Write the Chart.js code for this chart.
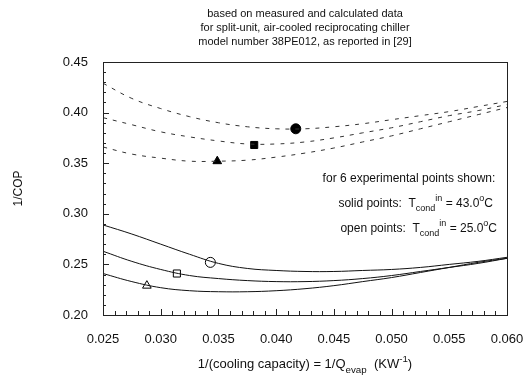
<!DOCTYPE html>
<html>
<head>
<meta charset="utf-8">
<script src="https://cdn.jsdelivr.net/npm/chart.js@4.4.1/dist/chart.umd.min.js"></script>
<style>
  html, body { margin: 0; padding: 0; background: #fff; }
  #wrap { width: 529px; height: 379px; }
</style>
</head>
<body>
<div id="wrap"><canvas id="copChart" width="529" height="379"></canvas></div>
<script>
// 1/Q_evap sample positions (KW^-1)
const xs = [0.025, 0.0275, 0.030, 0.0325, 0.035, 0.0375, 0.040, 0.0425, 0.045, 0.0475, 0.050, 0.0525, 0.055, 0.0575, 0.060];

// dashed curves, T_cond_in = 43.0 C
const hotCircle   = [0.429, 0.414, 0.404, 0.396, 0.390, 0.386, 0.384, 0.384, 0.386, 0.389, 0.393, 0.397, 0.401, 0.406, 0.411];
const hotSquare   = [0.395, 0.388, 0.381, 0.376, 0.372, 0.369, 0.369, 0.371, 0.375, 0.380, 0.385, 0.391, 0.397, 0.402, 0.408];
const hotTriangle = [0.366, 0.359, 0.355, 0.352, 0.352, 0.353, 0.356, 0.360, 0.365, 0.371, 0.377, 0.384, 0.391, 0.398, 0.405];

// solid curves, T_cond_in = 25.0 C
const coldCircle   = [0.289, 0.280, 0.270, 0.260, 0.251, 0.246, 0.244, 0.243, 0.243, 0.244, 0.245, 0.247, 0.250, 0.253, 0.257];
const coldSquare   = [0.263, 0.253, 0.245, 0.239, 0.236, 0.234, 0.233, 0.233, 0.234, 0.236, 0.239, 0.243, 0.247, 0.251, 0.256];
const coldTriangle = [0.241, 0.233, 0.227, 0.224, 0.223, 0.223, 0.224, 0.226, 0.229, 0.233, 0.237, 0.242, 0.247, 0.252, 0.256];

// the 6 experimental points
const solidPts = [
    { x: 0.0417, y: 0.384, shape: 'circle' },
    { x: 0.0381, y: 0.368, shape: 'rect' },
    { x: 0.0349, y: 0.352, shape: 'triangle' }
];
const openPts = [
    { x: 0.0343, y: 0.252, shape: 'circle' },
    { x: 0.0314, y: 0.241, shape: 'rect' },
    { x: 0.0288, y: 0.229, shape: 'triangle' }
];

const titleLines = [
    'based on measured and calculated data',
    'for split-unit, air-cooled reciprocating chiller',
    'model number 38PE012, as reported in [29]'
];
const xTicks = [0.025, 0.030, 0.035, 0.040, 0.045, 0.050, 0.055, 0.060];
const yTicks = [0.20, 0.25, 0.30, 0.35, 0.40, 0.45];

const FONT = '"Liberation Sans", Arial, sans-serif';

function toPoints(ys) {
    return xs.map(function (x, i) { return { x: x, y: ys[i] }; });
}

function curve(ys, dashed) {
    return {
        data: toPoints(ys),
        showLine: true,
        borderColor: dashed ? '#333' : '#111',
        borderWidth: 1,
        borderDash: dashed ? [4, 6] : [],
        pointRadius: 0,
        tension: 0.4,
        fill: false
    };
}

function marker(p, filled) {
    return {
        data: [{ x: p.x, y: p.y }],
        showLine: false,
        pointStyle: p.shape,
        pointRadius: 5,
        pointBackgroundColor: filled ? '#000' : '#fff',
        pointBorderColor: '#000',
        pointBorderWidth: 1
    };
}

// draws a run of text pieces; each piece may be normal, sub or sup
function drawRuns(ctx, runs, x, y, size, align) {
    let total = 0;
    runs.forEach(function (r) {
        const s = r.mode ? size * 0.75 : size;
        ctx.font = s + 'px ' + FONT;
        r.w = ctx.measureText(r.t).width;
        r.s = s;
        total += r.w;
    });
    let cx = align === 'right' ? x - total : (align === 'center' ? x - total / 2 : x);
    ctx.textAlign = 'left';
    ctx.textBaseline = 'alphabetic';
    runs.forEach(function (r) {
        ctx.font = r.s + 'px ' + FONT;
        let dy = 0;
        if (r.mode === 'sub') dy = size * 0.35;
        if (r.mode === 'sup') dy = -size * 0.5;
        ctx.fillText(r.t, cx, y + dy);
        cx += r.w;
    });
}

const decorations = {
    id: 'decorations',
    afterDraw: function (chart) {
        const ctx = chart.ctx;
        const a = chart.chartArea;
        const xs_ = chart.scales.x;
        const ys_ = chart.scales.y;
        ctx.save();
        ctx.fillStyle = '#111';
        ctx.strokeStyle = '#222';
        ctx.lineWidth = 1;

        // frame
        ctx.strokeRect(a.left + 0.5, a.top + 0.5, a.right - a.left, a.bottom - a.top);

        // inward ticks
        ctx.beginPath();
        for (let v = 0.025; v <= 0.0601; v += 0.001) {
            const px = Math.round(xs_.getPixelForValue(v)) + 0.5;
            const major = Math.abs(Math.round(v * 200) - v * 200) < 1e-6;
            const len = major ? 6 : 4;
            ctx.moveTo(px, a.bottom);
            ctx.lineTo(px, a.bottom - len);
        }
        for (let v = 0.20; v <= 0.4501; v += 0.01) {
            const py = Math.round(ys_.getPixelForValue(v)) + 0.5;
            const major = Math.abs(Math.round(v * 20) - v * 20) < 1e-6;
            const len = major ? 6 : 3;
            ctx.moveTo(a.left, py);
            ctx.lineTo(a.left + len, py);
        }
        ctx.stroke();

        // title
        ctx.textAlign = 'center';
        ctx.textBaseline = 'middle';
        ctx.font = '11px ' + FONT;
        const cx = (a.left + a.right) / 2;
        titleLines.forEach(function (t, i) {
            ctx.fillText(t, cx, 14 + i * 14);
        });

        // axis titles
        drawRuns(ctx, [
            { t: '1/(cooling capacity) = 1/Q' },
            { t: 'evap', mode: 'sub' },
            { t: '  (KW' },
            { t: '-1', mode: 'sup' },
            { t: ')' }
        ], cx, 368, 13, 'center');

        ctx.save();
        ctx.translate(19, (a.top + a.bottom) / 2);
        ctx.rotate(-Math.PI / 2);
        ctx.textAlign = 'center';
        ctx.textBaseline = 'middle';
        ctx.font = '12px ' + FONT;
        ctx.fillText('1/COP', 0, 0);
        ctx.restore();

        // note
        ctx.textAlign = 'center';
        ctx.textBaseline = 'alphabetic';
        ctx.font = '12px ' + FONT;
        ctx.fillText('for 6 experimental points shown:', 409, 182);
        drawRuns(ctx, [
            { t: 'solid points:  T' },
            { t: 'cond', mode: 'sub' },
            { t: 'in', mode: 'sup' },
            { t: ' = 43.0' },
            { t: 'o', mode: 'sup' },
            { t: 'C' }
        ], 493, 207, 12, 'right');
        drawRuns(ctx, [
            { t: 'open points:  T' },
            { t: 'cond', mode: 'sub' },
            { t: 'in', mode: 'sup' },
            { t: ' = 25.0' },
            { t: 'o', mode: 'sup' },
            { t: 'C' }
        ], 497, 232, 12, 'right');

        ctx.restore();
    }
};

const datasets = [
    curve(hotCircle, true),
    curve(hotSquare, true),
    curve(hotTriangle, true),
    curve(coldCircle, false),
    curve(coldSquare, false),
    curve(coldTriangle, false)
];
solidPts.forEach(function (p) { datasets.push(marker(p, true)); });
openPts.forEach(function (p) { datasets.push(marker(p, false)); });

const chartConfig = {
    type: 'scatter',
    data: { datasets: datasets },
    plugins: [decorations],
    options: {
        responsive: false,
        animation: false,
        layout: { padding: { top: 62, right: 22, left: 0, bottom: 0 } },
        plugins: {
            legend: { display: false },
            tooltip: { enabled: false }
        },
        scales: {
            x: {
                type: 'linear',
                min: 0.025,
                max: 0.060,
                afterBuildTicks: function (s) { s.ticks = xTicks.map(function (v) { return { value: v }; }); },
                afterFit: function (s) {
                    s.height = 64;
                    s.paddingLeft = 0;
                    s.paddingRight = 0;
                },
                grid: { display: false, drawTicks: false },
                border: { display: false },
                ticks: {
                    padding: 17,
                    color: '#111',
                    font: { size: 13, family: FONT },
                    maxRotation: 0,
                    callback: function (v) { return v.toFixed(3); }
                }
            },
            y: {
                min: 0.20,
                max: 0.45,
                afterBuildTicks: function (s) { s.ticks = yTicks.map(function (v) { return { value: v }; }); },
                afterFit: function (s) {
                    s.width = 103;
                    s.paddingTop = 0;
                    s.paddingBottom = 0;
                },
                grid: { display: false, drawTicks: false },
                border: { display: false },
                ticks: {
                    padding: 15,
                    color: '#111',
                    font: { size: 13, family: FONT },
                    callback: function (v) { return v.toFixed(2); }
                }
            }
        }
    }
};

window.onload = function () {
    const ctx = document.getElementById('copChart').getContext('2d');
    window.copChart = new Chart(ctx, chartConfig);
};
</script>
</body>
</html>
